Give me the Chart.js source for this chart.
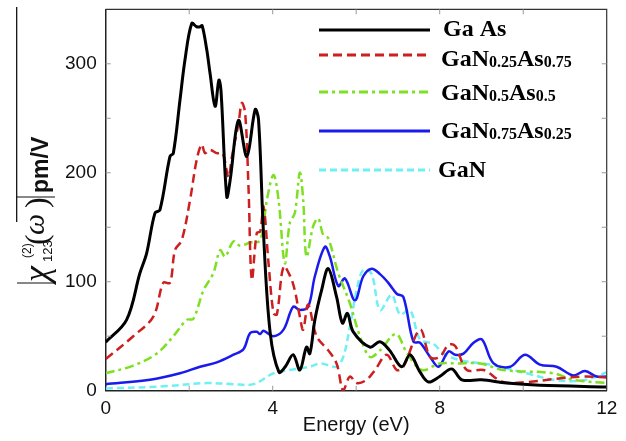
<!DOCTYPE html>
<html>
<head>
<meta charset="utf-8">
<script src="https://cdn.jsdelivr.net/npm/chart.js@4.4.1/dist/chart.umd.min.js"></script>
<style>
  html, body { margin: 0; padding: 0; background: #fff; }
</style>
</head>
<body>
<canvas id="chiChart" width="626" height="441"></canvas>
<script>
// values: photon energy (eV) and |chi(2)_123| (pm/V)
const gaAsE   = [0, 0.5, 0.82, 0.98, 1.18, 1.3, 1.54, 1.62, 1.78, 1.9, 2.06, 2.18, 2.26, 2.31, 2.42, 2.5, 2.62, 2.71, 2.76, 2.9, 2.98, 3.18, 3.38, 3.58, 3.66, 3.78, 3.94, 4.15, 4.3, 4.49, 4.65, 4.81, 4.89, 5.01, 5.17, 5.33, 5.53, 5.67, 5.79, 5.93, 6.33, 6.57, 6.8, 7.09, 7.29, 7.53, 7.73, 8.0, 8.29, 8.53, 9.0, 9.6, 10.4, 12];
const gaAsChi = [44.5, 65, 108, 126, 163, 166, 215, 218, 267, 304, 337, 334, 334, 335, 313, 291, 261, 285, 276, 178, 193, 248, 215, 258, 249, 144, 53, 17, 22, 33, 19, 40, 34, 65, 92, 112, 86, 62, 71, 54, 40, 45, 37, 22, 33, 17, 8, 13, 20, 10, 10, 7, 5, 3.5];

const n25E   = [0, 0.66, 1.14, 1.38, 1.54, 1.66, 1.82, 2.02, 2.18, 2.3, 2.38, 2.5, 2.66, 2.8, 2.94, 3.02, 3.18, 3.26, 3.34, 3.42, 3.5, 3.62, 3.7, 3.78, 3.9, 4.02, 4.1, 4.26, 4.42, 4.53, 4.65, 4.73, 4.85, 5.05, 5.33, 5.53, 5.69, 5.85, 6.01, 6.25, 6.45, 6.73, 6.97, 7.13, 7.53, 7.77, 8.0, 8.21, 8.37, 8.65, 9.05, 9.52, 10.1, 10.8, 11.44, 12];
const n25Chi = [29, 50, 68, 99, 99, 129, 138, 175, 212, 226, 218, 221, 218, 218, 196, 214, 245, 264, 255, 187, 102, 145, 146, 169, 117, 71, 70, 114, 105, 92, 68, 56, 79, 50, 37, 25, 0, 13, 7, 10, 19, 33, 19, 22, 56, 31, 31, 42, 41, 19, 19, 8, 8, 11, 13, 12];

const n50E   = [0, 0.66, 1.22, 1.62, 1.94, 2.1, 2.34, 2.58, 2.74, 2.86, 3.06, 3.22, 3.46, 3.7, 3.86, 4.02, 4.14, 4.29, 4.41, 4.53, 4.65, 4.73, 4.81, 4.97, 5.09, 5.21, 5.33, 5.57, 5.85, 6.09, 6.33, 6.57, 6.95, 7.21, 7.57, 8.0, 8.41, 8.97, 9.52, 10.72, 11.2, 12];
const n50Chi = [16, 23, 34, 50, 65, 66, 92, 108, 129, 123, 137, 133, 136, 138, 175, 198, 175, 117, 154, 163, 200, 175, 123, 151, 158, 143, 140, 108, 80, 50, 31, 37, 52, 35, 19, 25, 25, 25, 19, 16, 10, 7];

const n75E   = [0, 1.06, 1.78, 2.26, 2.66, 3.06, 3.3, 3.46, 3.62, 3.7, 3.78, 4.02, 4.26, 4.49, 4.65, 4.85, 5.01, 5.25, 5.37, 5.57, 5.73, 5.97, 6.17, 6.37, 6.57, 6.77, 6.97, 7.13, 7.37, 7.53, 7.77, 7.97, 8.21, 8.37, 8.57, 8.81, 9.01, 9.29, 9.69, 10.04, 10.4, 10.8, 11.2, 11.48, 11.76, 12];
const n75Chi = [6, 10, 16, 22, 26, 33, 38, 53, 54, 52, 55, 50, 56, 77, 74, 77, 105, 132, 123, 96, 103, 83, 105, 112, 107, 99, 89, 86, 45, 44, 31, 22, 36, 33, 34, 44, 47, 25, 22, 33, 24, 22, 14, 18, 13, 13];

const ganE   = [0, 1.38, 2.42, 3.06, 3.54, 4.02, 4.41, 4.89, 5.13, 5.37, 5.53, 5.69, 5.85, 6.01, 6.17, 6.37, 6.57, 6.85, 7.05, 7.29, 7.53, 7.85, 8.09, 8.49, 9.2, 10.08, 10.72, 11.36, 11.76, 12];
const ganChi = [2, 4, 7, 6, 6, 16, 19, 22, 25, 23, 22, 31, 59, 92, 111, 107, 74, 88, 70, 74, 47, 43, 34, 28, 24, 16, 10, 9, 13, 17];

const seriesNames = ['Ga As', 'GaN0.25As0.75', 'GaN0.5As0.5', 'GaN0.75As0.25', 'GaN'];
const xTickLabels = [0, 4, 8, 12];
const yTickLabels = [0, 100, 200, 300];

const toPoints = (xs, ys) => xs.map((x, i) => ({ x: x, y: ys[i] }));

function line(label, xs, ys, color, dash, width) {
    return {
        label: label,
        data: toPoints(xs, ys),
        borderColor: color,
        borderDash: dash,
        borderWidth: width,
        pointRadius: 0,
        tension: 0.35,
        fill: false
    };
}

// legend rows, y title and the inward ticks are drawn by hand
const decorations = {
    id: 'decorations',
    afterDraw(chart) {
        const ctx = chart.ctx;
        const a = chart.chartArea;
        const xs = chart.scales.x, ys = chart.scales.y;
        ctx.save();

        // frame on top and right
        ctx.strokeStyle = '#333';
        ctx.lineWidth = 1.2;
        ctx.beginPath();
        ctx.moveTo(a.left, a.top); ctx.lineTo(a.right, a.top); ctx.lineTo(a.right, a.bottom);
        ctx.stroke();

        // small inward ticks on all four sides
        ctx.strokeStyle = '#999';
        ctx.lineWidth = 1;
        ctx.beginPath();
        for (let v = 2; v < 12; v += 2) {
            const px = xs.getPixelForValue(v);
            ctx.moveTo(px, a.bottom); ctx.lineTo(px, a.bottom - 5);
            ctx.moveTo(px, a.top); ctx.lineTo(px, a.top + 5);
        }
        for (let v = 50; v < 350; v += 50) {
            const py = ys.getPixelForValue(v);
            ctx.moveTo(a.left, py); ctx.lineTo(a.left + 5, py);
            ctx.moveTo(a.right, py); ctx.lineTo(a.right - 5, py);
        }
        ctx.stroke();

        // legend
        const rows = [[30, 36], [55, 66], [92, 100], [131, 138], [170, 177]];
        chart.data.datasets.forEach((ds, i) => {
            const [ly, by] = rows[i];
            ctx.strokeStyle = ds.borderColor;
            ctx.lineWidth = 3;
            ctx.setLineDash(ds.borderDash || []);
            ctx.beginPath();
            ctx.moveTo(319, ly); ctx.lineTo(430, ly);
            ctx.stroke();
            ctx.setLineDash([]);
            let tx = i === 0 ? 443 : (i === 4 ? 438 : 441);
            ctx.fillStyle = '#000';
            ctx.textBaseline = 'alphabetic';
            seriesNames[i].split(/(\d+\.\d+)/).forEach(part => {
                if (!part) return;
                const sub = /^\d/.test(part);
                ctx.font = sub ? 'bold 16px "Liberation Serif"' : 'bold 24px "Liberation Serif"';
                ctx.fillText(part, tx, by + (sub ? 1 : 0));
                tx += ctx.measureText(part).width;
            });
        });

        // stray rule at the left edge of the figure
        ctx.strokeStyle = '#000';
        ctx.lineWidth = 1.2;
        ctx.beginPath();
        ctx.moveTo(16.7, 7); ctx.lineTo(16.7, 222);
        ctx.stroke();

        // y title |chi(2)_123(omega)| pm/V, rotated
        ctx.translate(48, 0);
        ctx.rotate(-Math.PI / 2);
        ctx.fillStyle = '#111';
        ctx.strokeStyle = '#111';
        ctx.lineWidth = 1.2;
        ctx.beginPath();
        ctx.moveTo(-283, -31); ctx.lineTo(-283, 7);
        ctx.moveTo(-197, -31); ctx.lineTo(-197, 7);
        ctx.stroke();
        ctx.font = 'italic 36px "Liberation Serif"';
        ctx.fillText('\u03c7', -282, 0);
        ctx.font = '13px "Liberation Sans"';
        ctx.fillText('123', -262, 4);
        ctx.font = '12px "Liberation Sans"';
        ctx.fillText('(2)', -258, -17);
        ctx.font = '32px "Liberation Serif"';
        ctx.fillText('(', -245, -1);
        ctx.font = 'italic 30px "Liberation Serif"';
        ctx.fillText('\u03c9', -235, -4);
        ctx.font = '32px "Liberation Serif"';
        ctx.fillText(')', -208, -1);
        ctx.font = 'bold 23px "Liberation Sans"';
        ctx.fillText('pm/V', -193, 0);

        ctx.restore();
    }
};

new Chart(document.getElementById('chiChart'), {
    type: 'line',
    data: {
        datasets: [
            line(seriesNames[0], gaAsE, gaAsChi, '#000000', [], 3),
            line(seriesNames[1], n25E, n25Chi, '#cc1f1f', [9, 5], 2.5),
            line(seriesNames[2], n50E, n50Chi, '#7ee022', [9, 4, 3, 4], 2.5),
            line(seriesNames[3], n75E, n75Chi, '#1a1aee', [], 2.5),
            line(seriesNames[4], ganE, ganChi, '#6ff0f4', [7, 4], 2.5)
        ]
    },
    options: {
        responsive: false,
        animation: false,
        layout: { padding: { left: 0, top: 9.3, right: 19.3, bottom: 0 } },
        plugins: {
            legend: { display: false },
            tooltip: { enabled: false }
        },
        scales: {
            x: {
                type: 'linear',
                min: 0,
                max: 12,
                afterFit: s => { s.height = 50.3; s.paddingLeft = 0; s.paddingRight = 0; },
                grid: { display: false, drawTicks: false },
                border: { display: true, color: '#222', width: 1.5 },
                ticks: {
                    stepSize: 2,
                    autoSkip: false,
                    maxRotation: 0,
                    padding: 7,
                    color: '#111',
                    font: { family: 'Liberation Sans', size: 19 },
                    callback: v => xTickLabels.includes(v) ? String(v) : ''
                },
                title: {
                    display: true,
                    text: 'Energy (eV)',
                    color: '#111',
                    font: { family: 'Liberation Sans', size: 20 },
                    padding: { top: 0, bottom: 4 }
                }
            },
            y: {
                min: 0,
                max: 350,
                afterFit: s => { s.width = 105.7; s.paddingTop = 0; s.paddingBottom = 0; },
                grid: { display: false, drawTicks: false },
                border: { display: true, color: '#222', width: 1.5 },
                ticks: {
                    stepSize: 50,
                    autoSkip: false,
                    padding: 9,
                    color: '#111',
                    font: { family: 'Liberation Sans', size: 19 },
                    callback: v => yTickLabels.includes(v) ? String(v) : ''
                }
            }
        }
    },
    plugins: [decorations]
});
</script>
</body>
</html>
